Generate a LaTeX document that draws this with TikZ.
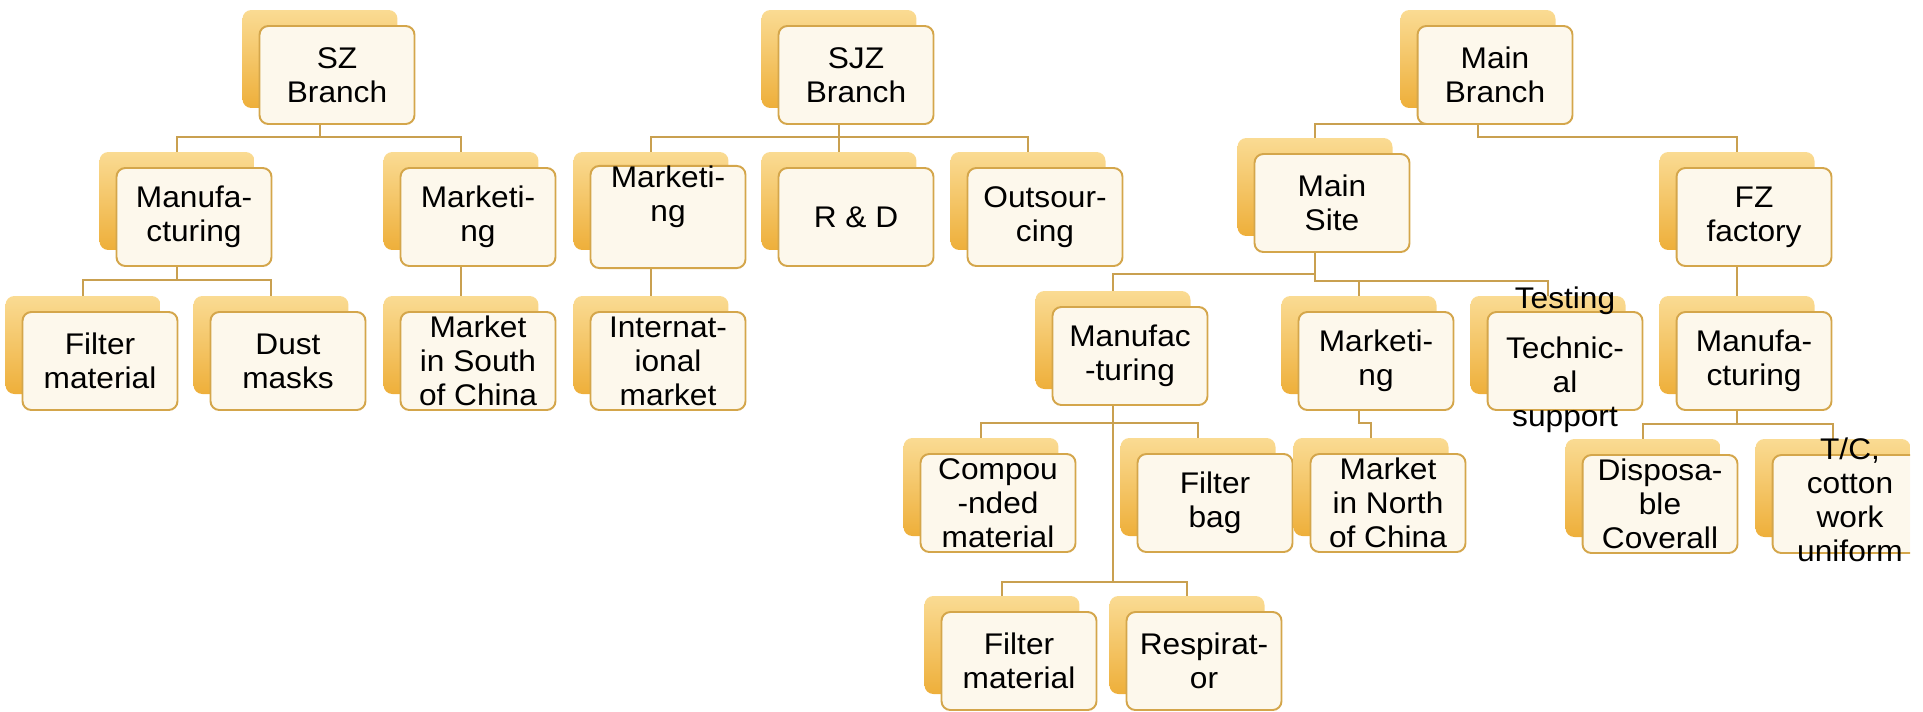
\documentclass[tikz,border=0pt]{standalone}
\usepackage{fontspec}
\setmainfont{Liberation Sans}[FakeStretch=1.06]
\usetikzlibrary{backgrounds}
\definecolor{boxline}{HTML}{D4A64B}
\definecolor{boxfill}{HTML}{FDF8EC}
\definecolor{backtop}{HTML}{FADB93}
\definecolor{backbot}{HTML}{EEAF3A}
\definecolor{linkcol}{HTML}{C9A050}
\tikzset{
  back/.style={rectangle, rounded corners=5pt, minimum width=3.1cm,
    minimum height=1.96cm, inner sep=0pt, top color=backtop, bottom color=backbot},
  front/.style={rectangle, rounded corners=5pt, draw=boxline, line width=1.1pt,
    fill=boxfill, minimum width=3.1cm, minimum height=1.96cm, inner sep=0pt,
    align=center, font=\fontsize{17}{19.4}\selectfont},
  link/.style={draw=linkcol, line width=1.1pt}
}
\newcommand{\orgbox}[4]{%
  \node[back] (#1b) at (#2,#3) {};
  \node[front] (#1) at ([shift={(17,16)}]#1b) {#4};}
\begin{document}
\begin{tikzpicture}[x=0.02cm, y=-0.02cm]
            \useasboundingbox (0,0) rectangle (1923,711);
            \clip (0,0) rectangle (1910,711);
            \orgbox{sz}{320}{59}{SZ\\Branch}
            \orgbox{szman}{177}{201}{Manufa-\\cturing}
            \orgbox{szmkt}{461}{201}{Marketi-\\ng}
            \orgbox{szfil}{83}{345}{Filter\\material}
            \orgbox{szdust}{271}{345}{Dust\\masks}
            \orgbox{south}{461}{345}{Market\\in South\\of China}
            \orgbox{sjz}{839}{59}{SJZ\\Branch}
            \orgbox{sjzmkt}{651}{201}{Marketi-\\ng\\[7pt]\mbox{}}
            \orgbox{rd}{839}{201}{R \& D}
            \orgbox{out}{1028}{201}{Outsour-\\cing}
            \orgbox{intl}{651}{345}{Internat-\\ional\\market}
            \orgbox{main}{1478}{59}{Main\\Branch}
            \orgbox{site}{1315}{187}{Main\\Site}
            \orgbox{fz}{1737}{201}{FZ\\factory}
            \orgbox{manf}{1113}{340}{Manufac\\-turing}
            \orgbox{mktm}{1359}{345}{Marketi-\\ng}
            \orgbox{tech}{1548}{345}{\smash{\raisebox{-4pt}{\begin{tabular}{@{}c@{}}Testing\\[9pt]Technic-\\al\\support\end{tabular}}}}
            \orgbox{fzman}{1737}{345}{Manufa-\\cturing}
            \orgbox{comp}{981}{487}{Compou\\-nded\\material}
            \orgbox{bag}{1198}{487}{Filter\\bag}
            \orgbox{north}{1371}{487}{Market\\in North\\of China}
            \orgbox{disp}{1643}{488}{Disposa-\\ble\\Coverall}
            \orgbox{tc}{1833}{488}{\smash{\raisebox{-4pt}{\begin{tabular}{@{}c@{}}T/C,\\cotton\\work\\uniform\end{tabular}}}}
            \orgbox{film}{1002}{645}{Filter\\material}
            \orgbox{resp}{1187}{645}{Respirat-\\or}
            \begin{scope}[on background layer]
            \draw[link] (szb.south) -- ++(0,29) coordinate (szj) -| (szmanb.north) (szj) -| (szmktb.north);
            \draw[link] (szmanb.south) -- ++(0,30) coordinate (szmj) -| (szfilb.north) (szmj) -| (szdustb.north);
            \draw[link] (szmktb.south) -- (southb.north);
            \draw[link] (sjzb.south) -- ++(0,29) coordinate (sjzj) -| (sjzmktb.north) (sjzj) -- (rdb.north) (sjzj) -| (outb.north);
            \draw[link] (sjzmktb.south) -- (intlb.north);
            \draw[link] (mainb.south) -- ++(0,16) -| (siteb.north) (mainb.south) -- ++(0,29) -| (fzb.north);
            \draw[link] (siteb.south) -- ++(0,38) -| (manfb.north) (siteb.south) -- ++(0,45) coordinate (sitej) -| (mktmb.north) (sitej) -| (techb.north);
            \draw[link] (fzb.south) -- (fzmanb.north);
            \draw[link] (manfb.south) -- ++(0,34) coordinate (manj) -| (compb.north) (manj) -| (bagb.north)
              (manfb.south) -- ++(0,193) coordinate (manjj) -| (filmb.north) (manjj) -| (respb.north);
            \draw[link] (mktmb.south) -- ++(0,29) -| (northb.north);
            \draw[link] (fzmanb.south) -- ++(0,30) coordinate (fzj) -| (dispb.north) (fzj) -| (tcb.north);
            \end{scope}
\end{tikzpicture}
\end{document}
